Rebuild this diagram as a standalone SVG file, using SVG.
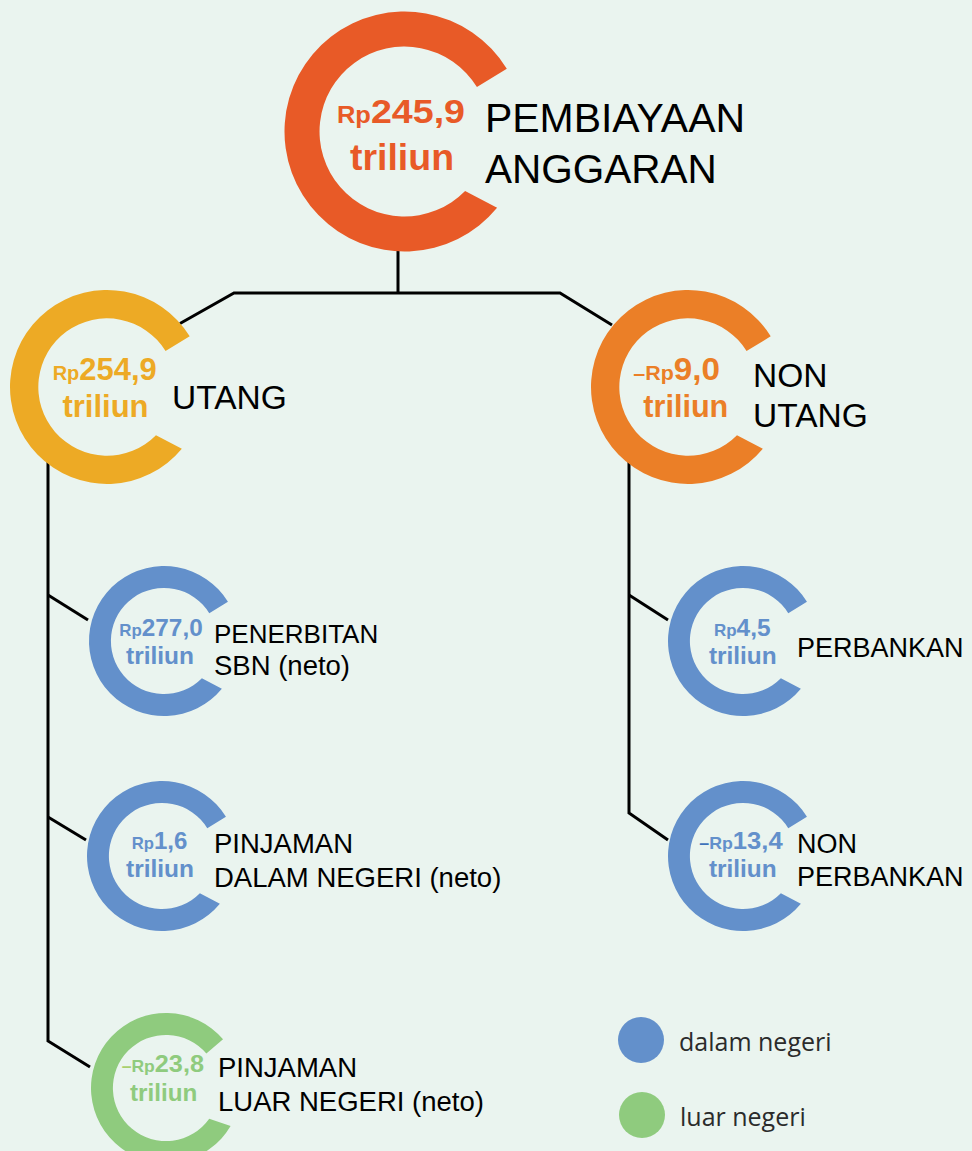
<svg xmlns="http://www.w3.org/2000/svg" xmlns:xlink="http://www.w3.org/1999/xlink" width="972" height="1151" viewBox="0 0 972 1151">
<style>
.num{font-family:"Liberation Sans",Arial,sans-serif;font-weight:bold;text-anchor:middle}
.lbl{font-family:"Liberation Sans",Arial,sans-serif;fill:#000}
.leg{font-family:"Open Sans","Noto Sans",sans-serif;fill:#2b2b2b;font-size:25px}
.con{fill:none;stroke:#000;stroke-width:3;stroke-linejoin:miter}
</style>
<defs>
<path id="ring" d="M85.26,-52.25 A100,100 0 1 0 77.16,63.61 L50.50,49.62 A70.8,70.8 0 1 1 60.36,-36.99 Z"/>
</defs>
<rect width="972" height="1151" fill="#EAF4EF"/>
<g id="connectors">
<line class="con" x1="398" y1="245" x2="398" y2="293"/>
<polyline class="con" points="180,323.5 234,293 560,293 612,325"/>
<polyline class="con" points="48,450 48,1041 90,1067"/>
<line class="con" x1="48" y1="595" x2="88" y2="620"/>
<line class="con" x1="48" y1="817" x2="86" y2="840"/>
<polyline class="con" points="629,450 629,813 668,840"/>
<line class="con" x1="629" y1="595" x2="668" y2="620"/>
</g>
<g id="pembiayaan">
<use xlink:href="#ring" transform="translate(404.5 131.5) scale(1.2)" fill="#E85A27"/>
<text class="num" fill="#E85A27" x="401" y="123" textLength="128" lengthAdjust="spacingAndGlyphs"><tspan font-size="23">Rp</tspan><tspan font-size="34">245,9</tspan></text>
<text class="num" fill="#E85A27" x="402" y="170" font-size="36" textLength="104" lengthAdjust="spacingAndGlyphs">triliun</text>
<text class="lbl" font-size="40.5" x="485" y="132" textLength="260" lengthAdjust="spacingAndGlyphs">PEMBIAYAAN</text>
<text class="lbl" font-size="40.5" x="485" y="183">ANGGARAN</text>
</g>
<g id="utang">
<use xlink:href="#ring" transform="translate(107 387) scale(0.97)" fill="#EDAA25"/>
<text class="num" fill="#EDAA25" x="104.7" y="380" textLength="104" lengthAdjust="spacingAndGlyphs"><tspan font-size="20">Rp</tspan><tspan font-size="31">254,9</tspan></text>
<text class="num" fill="#EDAA25" x="105.5" y="417" font-size="31" textLength="86" lengthAdjust="spacingAndGlyphs">triliun</text>
<text class="lbl" font-size="33.5" x="172" y="409">UTANG</text>
</g>
<g id="non-utang">
<use xlink:href="#ring" transform="translate(688 387) scale(0.97)" fill="#EB7F27"/>
<text class="num" fill="#EB7F27" x="676.7" y="380" textLength="86.7" lengthAdjust="spacingAndGlyphs"><tspan font-size="20">–Rp</tspan><tspan font-size="31">9,0</tspan></text>
<text class="num" fill="#EB7F27" x="685.8" y="417" font-size="31" textLength="85" lengthAdjust="spacingAndGlyphs">triliun</text>
<text class="lbl" font-size="33.5" x="753" y="387">NON</text>
<text class="lbl" font-size="33.5" x="753" y="427">UTANG</text>
</g>
<g id="penerbitan-sbn">
<use xlink:href="#ring" transform="translate(164 641) scale(0.75)" fill="#6390CB"/>
<text class="num" fill="#6390CB" x="161" y="636" textLength="83.4" lengthAdjust="spacingAndGlyphs"><tspan font-size="17">Rp</tspan><tspan font-size="24.5">277,0</tspan></text>
<text class="num" fill="#6390CB" x="160" y="664" font-size="24.5" textLength="68" lengthAdjust="spacingAndGlyphs">triliun</text>
<text class="lbl" font-size="26" x="214" y="643">PENERBITAN</text>
<text class="lbl" font-size="27.5" x="214" y="675">SBN (neto)</text>
</g>
<g id="pinjaman-dn">
<use xlink:href="#ring" transform="translate(162 856) scale(0.75)" fill="#6390CB"/>
<text class="num" fill="#6390CB" x="159.5" y="849" textLength="55.6" lengthAdjust="spacingAndGlyphs"><tspan font-size="17">Rp</tspan><tspan font-size="24.5">1,6</tspan></text>
<text class="num" fill="#6390CB" x="160" y="877" font-size="24.5" textLength="68" lengthAdjust="spacingAndGlyphs">triliun</text>
<text class="lbl" font-size="27.5" x="214" y="853">PINJAMAN</text>
<text class="lbl" font-size="27.5" x="214" y="887">DALAM NEGERI (neto)</text>
</g>
<g id="pinjaman-ln">
<use xlink:href="#ring" transform="translate(166 1088) rotate(-9) scale(0.75)" fill="#8FCB7E"/>
<text class="num" fill="#8FCB7E" x="162.8" y="1072" textLength="82.3" lengthAdjust="spacingAndGlyphs"><tspan font-size="17" fill="#A8D06E">–</tspan><tspan font-size="17">Rp</tspan><tspan font-size="24.5">23,8</tspan></text>
<text class="num" fill="#8FCB7E" x="163.7" y="1101" font-size="24.5" textLength="67.3" lengthAdjust="spacingAndGlyphs">triliun</text>
<text class="lbl" font-size="27.5" x="218" y="1077">PINJAMAN</text>
<text class="lbl" font-size="27.5" x="218" y="1111">LUAR NEGERI (neto)</text>
</g>
<g id="perbankan">
<use xlink:href="#ring" transform="translate(743 641) scale(0.75)" fill="#6390CB"/>
<text class="num" fill="#6390CB" x="742.3" y="636" textLength="56.7" lengthAdjust="spacingAndGlyphs"><tspan font-size="17">Rp</tspan><tspan font-size="24.5">4,5</tspan></text>
<text class="num" fill="#6390CB" x="742.8" y="664" font-size="24.5" textLength="67.7" lengthAdjust="spacingAndGlyphs">triliun</text>
<text class="lbl" font-size="27" x="797" y="657">PERBANKAN</text>
</g>
<g id="non-perbankan">
<use xlink:href="#ring" transform="translate(743 856) scale(0.75)" fill="#6390CB"/>
<text class="num" fill="#6390CB" x="741" y="849" textLength="83.4" lengthAdjust="spacingAndGlyphs"><tspan font-size="17" fill="#3F72BA">–</tspan><tspan font-size="17">Rp</tspan><tspan font-size="24.5">13,4</tspan></text>
<text class="num" fill="#6390CB" x="742.8" y="877" font-size="24.5" textLength="67.7" lengthAdjust="spacingAndGlyphs">triliun</text>
<text class="lbl" font-size="27" x="797" y="853">NON</text>
<text class="lbl" font-size="27" x="797" y="886">PERBANKAN</text>
</g>
<g id="legend">
<circle cx="641" cy="1040" r="23" fill="#6390CB"/>
<text class="leg" x="679" y="1051">dalam negeri</text>
<circle cx="642" cy="1115" r="23" fill="#8FCB7E"/>
<text class="leg" x="680" y="1126">luar negeri</text>
</g>
</svg>
